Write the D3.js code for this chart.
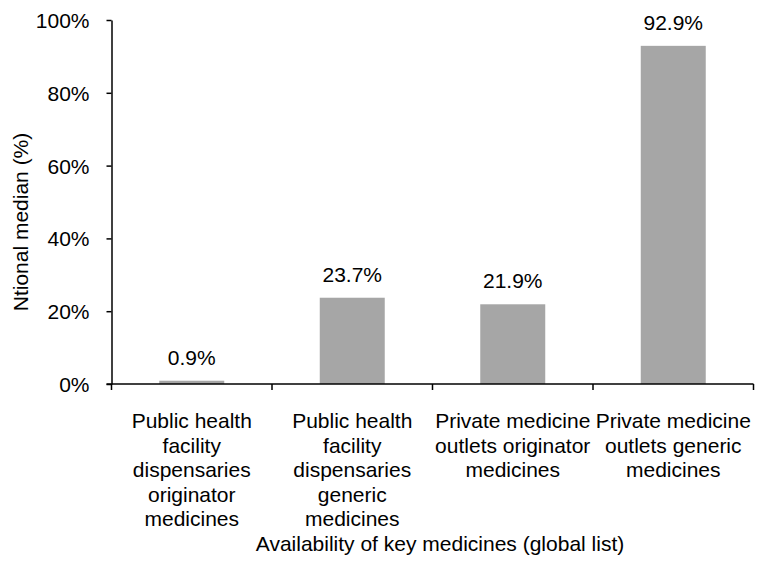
<!DOCTYPE html>
<html><head><meta charset="utf-8">
<script src="https://cdn.jsdelivr.net/npm/d3@7"></script>
<style>body{margin:0;background:#fff}svg{display:block}text{font-family:"Liberation Sans",Arial,sans-serif;fill:#000}</style>
</head><body><svg id="c" width="758" height="561"></svg>
<script>
const categories = [
  ["Public health","facility","dispensaries","originator","medicines"],
  ["Public health","facility","dispensaries","generic","medicines"],
  ["Private medicine","outlets originator","medicines"],
  ["Private medicine","outlets generic","medicines"]
];
const values = [0.9, 23.7, 21.9, 92.9];
const valueLabels = ["0.9%","23.7%","21.9%","92.9%"];
const yTicks = [0,20,40,60,80,100];
const yTitle = "Ntional median (%)";
const xTitle = "Availability of key medicines (global list)";

const FS = 21;
const svg = d3.select("#c");
const plotL = 111.5, plotR = 753.5, plotT = 20, plotB = 384;
const x = d3.scaleBand().domain(d3.range(categories.length)).range([plotL, plotR]).paddingInner(0.595).paddingOuter(0.2975);
const y = d3.scaleLinear().domain([0,100]).range([plotB, plotT]);

svg.selectAll("rect.bar").data(values).join("rect").attr("class","bar")
  .attr("x",(d,i)=>x(i)).attr("width",x.bandwidth())
  .attr("y",d=>y(d)).attr("height",d=>y(0)-y(d)).attr("fill","#a6a6a6");

svg.selectAll("text.val").data(values).join("text").attr("class","val")
  .attr("x",(d,i)=>x(i)+x.bandwidth()/2).attr("y",d=>y(d)-16)
  .attr("text-anchor","middle").attr("font-size",FS).text((d,i)=>valueLabels[i]);

// y axis
const ya = svg.append("g").attr("transform",`translate(${plotL},0)`)
  .call(d3.axisLeft(y).tickValues(yTicks).tickFormat(d=>d+"%").tickSize(5).tickSizeOuter(0));
ya.select(".domain").attr("stroke","#000").attr("stroke-width",1.5);
ya.selectAll(".tick line").attr("stroke","#000").attr("stroke-width",1.5);
ya.selectAll(".tick text").attr("font-size",FS).attr("x",-22).attr("dy","0.36em")
  .style("font-family","Liberation Sans, Arial, sans-serif").attr("fill","#000");

// x axis line with ticks at category boundaries
const step = x.step();
const bounds = d3.range(categories.length+1).map(i=> plotL + i*step);
const xa = svg.append("g");
xa.append("line").attr("x1",plotL-5).attr("x2",plotR).attr("y1",y(0)).attr("y2",y(0)).attr("stroke","#000").attr("stroke-width",1.5);
xa.selectAll("line.tk").data(bounds).join("line").attr("class","tk")
  .attr("x1",d=>d).attr("x2",d=>d).attr("y1",y(0)).attr("y2",y(0)+6).attr("stroke","#000").attr("stroke-width",1.5);

const lab = svg.selectAll("text.cat").data(categories).join("text").attr("class","cat")
  .attr("text-anchor","middle").attr("font-size",FS);
lab.each(function(d,i){
  const t = d3.select(this);
  d.forEach((s,j)=>t.append("tspan").attr("x",x(i)+x.bandwidth()/2).attr("y",428+j*24.5).text(s));
});

svg.append("text").attr("x",440).attr("y",551).attr("text-anchor","middle").attr("font-size",FS).text(xTitle);
svg.append("text").attr("transform",`translate(28,222) rotate(-90)`).attr("text-anchor","middle").attr("font-size",FS).text(yTitle);
</script></body></html>
